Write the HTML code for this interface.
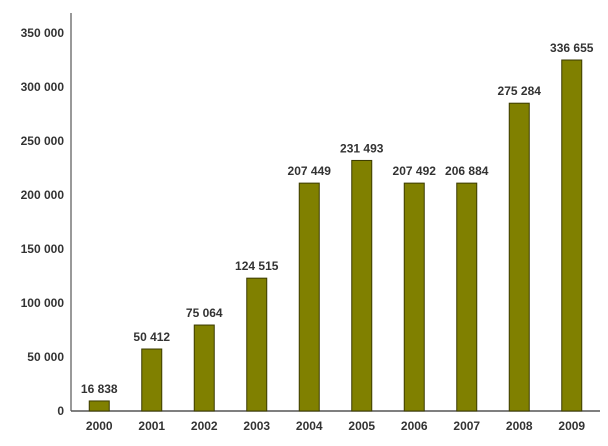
<!DOCTYPE html>
<html><head><meta charset="utf-8"><style>
body{margin:0;background:#fff;}
svg{display:block;font-family:"Liberation Sans",Arial,sans-serif;font-weight:bold;}
</style></head><body>
<svg id="c" width="608" height="446">
<line x1="71" y1="13" x2="71" y2="411" stroke="#333" stroke-width="1"/>
<line x1="71" y1="411" x2="600" y2="411" stroke="#555" stroke-width="1.5"/>
</svg>
<script>
const categories=["2000","2001","2002","2003","2004","2005","2006","2007","2008","2009"];
const barValues=[9300,57400,79600,123000,211000,232000,211000,211000,285000,325000];
const valueLabels=["16 838","50 412","75 064","124 515","207 449","231 493","207 492","206 884","275 284","336 655"];
const tickValues=[0,50000,100000,150000,200000,250000,300000,350000];
const tickLabels=["0","50 000","100 000","150 000","200 000","250 000","300 000","350 000"];
const svg=document.getElementById('c');
const NS="http://www.w3.org/2000/svg";
const y=v=>411-v*378/350000;
const x=i=>99.25+52.5*i;
function mk(t,a){const e=document.createElementNS(NS,t);for(const k in a)e.setAttribute(k,a[k]);svg.appendChild(e);return e;}
tickValues.forEach((v,i)=>{
 const t=mk('text',{x:64,y:y(v)+4,'text-anchor':'end','font-size':12,fill:'#333'});
 t.textContent=tickLabels[i];
 
 
});
categories.forEach((c,i)=>{
 const v=barValues[i],cx=x(i);
 const r=mk('rect',{x:cx-10,y:y(v),width:20,height:411-y(v),fill:'#808000',stroke:'#3a3a00','stroke-width':1});
 
 
 const l=mk('text',{x:cx,y:y(v)-8,'text-anchor':'middle','font-size':12,fill:'#333'});
 l.textContent=valueLabels[i];
 
 
 const xl=mk('text',{x:cx,y:430,'text-anchor':'middle','font-size':12,fill:'#333'});
 xl.textContent=c;
 
 
});
</script>
</body></html>
